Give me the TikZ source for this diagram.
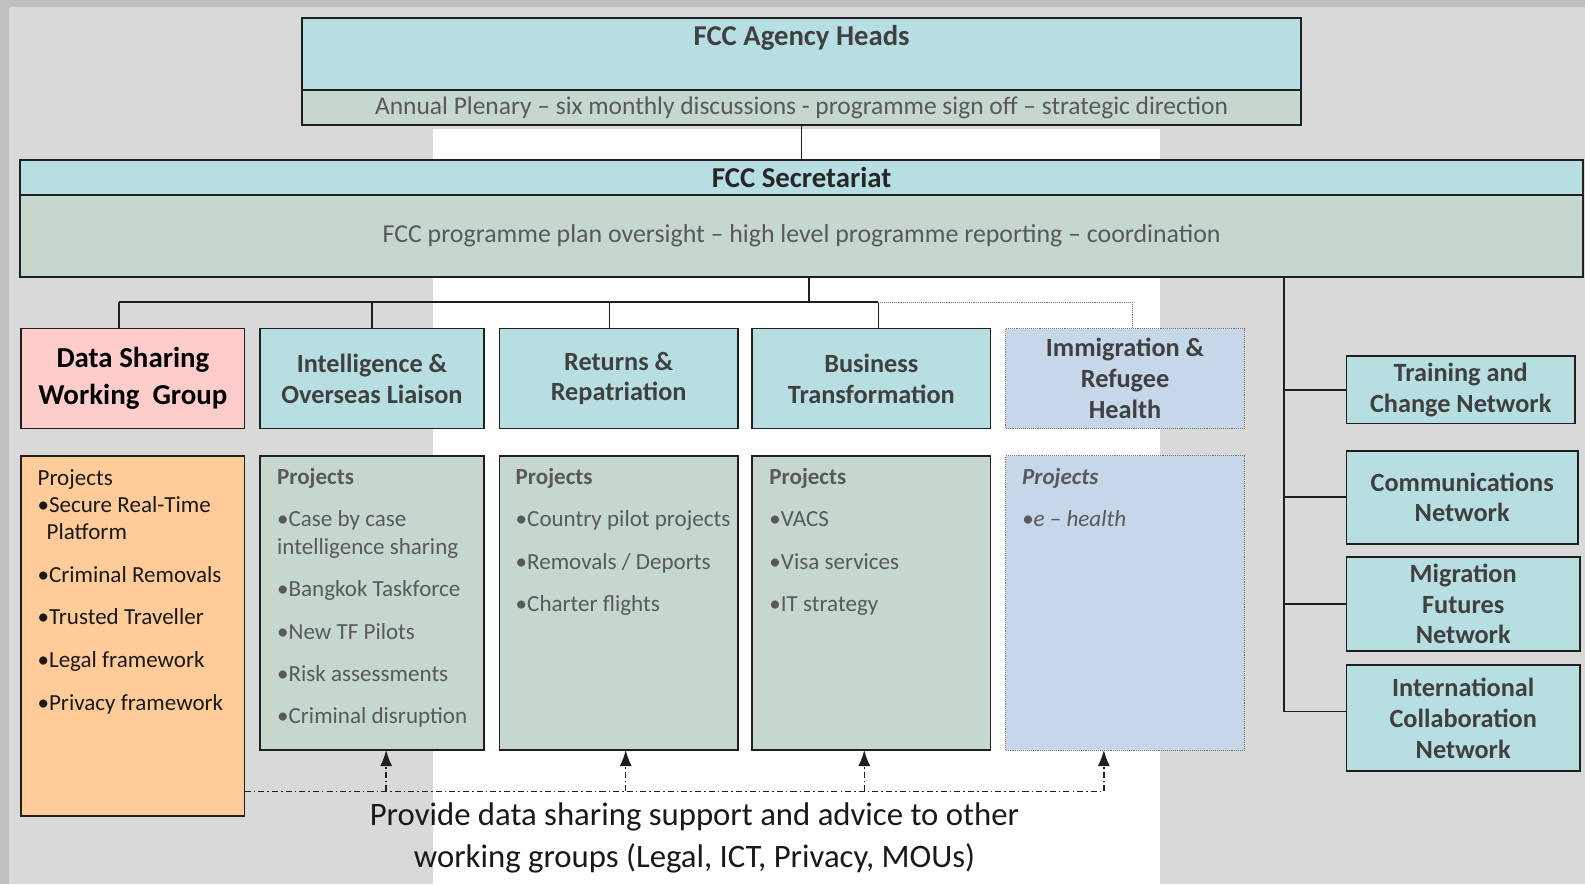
\documentclass[tikz,border=0pt]{standalone}
\usepackage{fontspec}
\setmainfont{Carlito}
\usetikzlibrary{arrows.meta}
\definecolor{bgouter}{HTML}{BFBFBF}
\definecolor{bggray}{HTML}{D9D9D9}
\definecolor{tealc}{HTML}{B7DFE2}
\definecolor{sagec}{HTML}{C6D8CD}
\definecolor{pinkc}{HTML}{FFCCCC}
\definecolor{orangec}{HTML}{FFCC99}
\definecolor{bluec}{HTML}{C6D7EA}
\definecolor{txtdark}{HTML}{404040}
\definecolor{txtmid}{HTML}{595959}
\definecolor{linec}{HTML}{1F1F1F}
\tikzset{
  box/.style={draw=linec, line width=1.7pt, inner sep=0pt, outer sep=0pt, align=center},
  tealbox/.style={box, fill=tealc},
  sagebox/.style={box, fill=sagec},
  dotbox/.style={inner sep=0pt, outer sep=0pt, align=center, fill=bluec, draw=black!55, line width=0.9pt, densely dotted},
  headtxt/.style={font=\fontsize{26}{30.5}\selectfont\bfseries, text=txtdark},
  listtxt/.style={anchor=north west, inner sep=0pt, align=left, font=\fontsize{22.8}{27}\selectfont},
  conn/.style={draw=linec, line width=1.7pt},
  dd/.style={draw=linec, line width=1.3pt, dash pattern=on 6pt off 3pt on 1.5pt off 3pt},
  tipup/.style={-{Latex[length=16pt,width=12pt]}, solid}
}
\begin{document}
\begin{tikzpicture}[x=1pt,y=-1pt]
\useasboundingbox (0,0) rectangle (1568,874.6);
\fill[bgouter] (0,0) rectangle (1568,874.6);
\fill[bggray] (9,7) rectangle (1568,874.6);
\fill[white] (428,128) rectangle (1148,874.6);

% top box
\node[tealbox, minimum width=988, minimum height=71] (heads) at (793,53.5) {};
\node[sagebox, minimum width=988, minimum height=35, font=\fontsize{25.2}{28}\selectfont, text=txtmid] (plen) at (793,106.5) {Annual Plenary -- six monthly discussions - programme sign off -- strategic direction};
\node[inner sep=0pt, font=\fontsize{28.4}{32}\selectfont\bfseries, text=txtdark] (headsT) at (793,37) {FCC Agency Heads};

% secretariat
\node[tealbox, minimum width=1546, minimum height=35, font=\fontsize{28.5}{32}\selectfont\bfseries, text=black!85] (secT) at (793,175.5) {FCC Secretariat};
\node[sagebox, minimum width=1546, minimum height=81, font=\fontsize{25.6}{30}\selectfont, text=txtmid] (secB) at (793,233.5) {FCC programme plan oversight -- high level programme reporting -- coordination};
\draw[conn] (plen.south) -- (secT.north);

% working group heads
\node[box, fill=pinkc, minimum width=221, minimum height=99, font=\fontsize{28.6}{37}\selectfont\bfseries, text=black] (dsg) at (131.5,374.5) {Data Sharing\\Working\ \ Group};
\node[tealbox, headtxt, minimum width=222, minimum height=99] (iol) at (368,374.5) {Intelligence \&\\Overseas Liaison};
\node[tealbox, headtxt, minimum width=236, minimum height=99] (rr) at (612,374.5) {Returns \&\\Repatriation};
\node[tealbox, headtxt, minimum width=236, minimum height=99] (bt) at (862,374.5) {Business\\Transformation};
\node[dotbox, headtxt, minimum width=236, minimum height=99] (irh) at (1113,374.5) {Immigration \&\\Refugee\\Health};

% tree connectors
\coordinate (hub) at (800,299);
\coordinate (j1) at (118,299);
\coordinate (j2) at (368,299);
\coordinate (j3) at (603,299);
\coordinate (j4) at (869,299);
\coordinate (j5) at (1120,299);
\draw[conn] (secB.south -| hub) -- (hub);
\draw[conn] (j1) -- (j4);
\draw[conn] (j1) -- (j1 |- dsg.north);
\draw[conn] (j2) -- (j2 |- iol.north);
\draw[conn] (j3) -- (j3 |- rr.north);
\draw[conn] (j4) -- (j4 |- bt.north);
\draw[draw=black!55, line width=0.9pt, densely dotted] (j4) -- (j5) -- (j5 |- irh.north);

% project boxes
\node[box, fill=orangec, minimum width=221, minimum height=356] (dsp) at (131.5,629) {};
\node[sagebox, minimum width=222, minimum height=291] (iop) at (368,596.5) {};
\node[sagebox, minimum width=236, minimum height=291] (rrp) at (612,596.5) {};
\node[sagebox, minimum width=236, minimum height=291] (btp) at (862,596.5) {};
\node[dotbox, minimum width=236, minimum height=291] (irp) at (1113,596.5) {};

\node[listtxt, text=black!90] (dsl) at (37,464) {Projects\\[0pt]%
  •Secure Real-Time\\
  \hspace*{9pt}Platform\\[15.2pt]
  •Criminal Removals\\[15.2pt]
  •Trusted Traveller\\[15.2pt]
  •Legal framework\\[15.2pt]
  •Privacy framework};
\node[listtxt, text=txtmid] (iol2) at (274,463) {\textbf{Projects}\\[15pt]
  •Case by case\\
  intelligence sharing\\[15pt]
  •Bangkok Taskforce\\[15pt]
  •New TF Pilots\\[15pt]
  •Risk assessments\\[15pt]
  •Criminal disruption};
\node[listtxt, text=txtmid] (rrl) at (510,463) {\textbf{Projects}\\[15pt]
  •Country pilot projects\\[15pt]
  •Removals / Deports\\[15pt]
  •Charter flights};
\node[listtxt, text=txtmid] (btl) at (761,463) {\textbf{Projects}\\[15pt]
  •VACS\\[15pt]
  •Visa services\\[15pt]
  •IT strategy};
\node[listtxt, text=txtmid, font=\fontsize{22.8}{27}\selectfont\itshape] (irl) at (1011,463) {\textbf{Projects}\\[15pt]
  •e -- health};

% right-hand networks
\node[tealbox, headtxt, minimum width=226, minimum height=67] (trn) at (1445,385.5) {Training and\\Change Network};
\node[tealbox, headtxt, minimum width=229, minimum height=92] (com) at (1446.5,492) {Communications\\Network};
\node[tealbox, headtxt, minimum width=231, minimum height=93] (mig) at (1447.5,597.5) {Migration\\Futures\\Network};
\node[tealbox, headtxt, minimum width=231, minimum height=105] (icn) at (1447.5,710.5) {International\\Collaboration\\Network};
\coordinate (sp) at (1270,704);
\draw[conn] (secB.south -| sp) -- (sp) -- ([yshift=6.5pt]icn.west);
\draw[conn] (sp |- trn.west) -- (trn.west);
\draw[conn] (sp |- com.west) -- (com.west);
\draw[conn] (sp |- mig.west) -- (mig.west);

% data sharing support
\coordinate (d1) at (382,783);
\coordinate (d2) at (619,783);
\coordinate (d3) at (855,783);
\coordinate (d4) at (1092,783);
\draw[dd] (dsp.east |- d1) -- (d4);
\foreach \d/\t in {d1/iop, d2/rrp, d3/btp, d4/irp}{
  \draw[dd] (\d) -- ([yshift=-14pt]\d |- \t.south);
  \draw[draw=linec, line width=1.3pt, tipup] ([yshift=-15pt]\d |- \t.south) -- (\d |- \t.south);
}
\node[inner sep=0pt, align=center, font=\fontsize{32.4}{41}\selectfont, text=black!90] (note) at (687,829) {Provide data sharing support and advice to other\\working groups (Legal, ICT, Privacy, MOUs)};
\end{tikzpicture}
\end{document}
